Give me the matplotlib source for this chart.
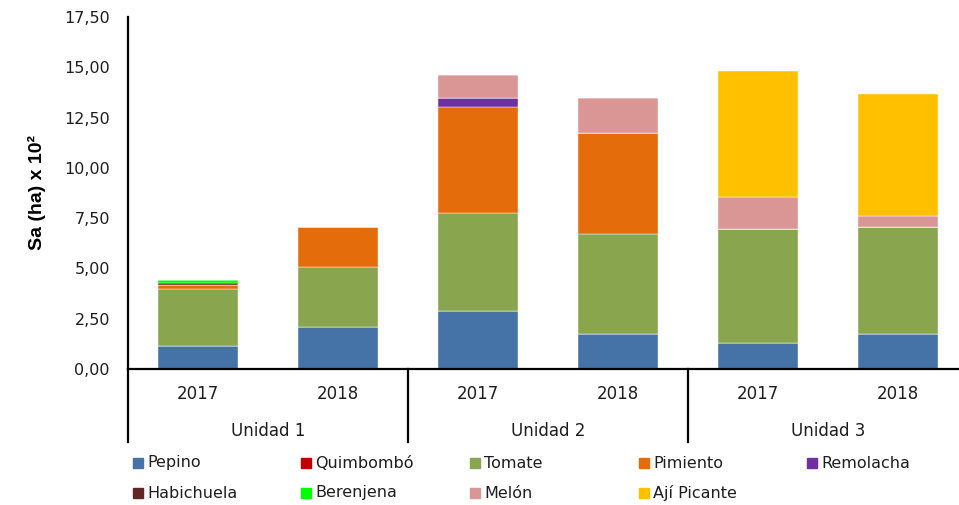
import numpy as np
import matplotlib
matplotlib.use("Agg")
import matplotlib.pyplot as plt
from matplotlib.patches import Rectangle

YEARS = ["2017", "2018", "2017", "2018", "2017", "2018"]
UNITS = ["Unidad 1", "Unidad 2", "Unidad 3"]

CROPS = ["Pepino", "Quimbombó", "Tomate", "Pimiento", "Remolacha",
         "Habichuela", "Berenjena", "Melón", "Ají Picante"]

pepino     = [1.15, 2.07, 2.89, 1.74, 1.29, 1.74]
quimbombo  = [0.00, 0.00, 0.00, 0.00, 0.00, 0.00]
tomate     = [2.83, 2.99, 4.87, 4.98, 5.68, 5.31]
pimiento   = [0.22, 1.99, 5.29, 5.02, 0.00, 0.00]
remolacha  = [0.00, 0.00, 0.42, 0.00, 0.00, 0.00]
habichuela = [0.10, 0.00, 0.00, 0.00, 0.00, 0.00]
berenjena  = [0.12, 0.00, 0.00, 0.00, 0.00, 0.00]
melon      = [0.00, 0.00, 1.16, 1.74, 1.59, 0.58]
aji        = [0.00, 0.00, 0.00, 0.00, 6.27, 6.05]

SERIES = [pepino, quimbombo, tomate, pimiento, remolacha,
          habichuela, berenjena, melon, aji]

COLORS = ["#4572A7", "#C00000", "#89A54E", "#E46C0A", "#7030A0",
          "#632523", "#00FF00", "#D99694", "#FFC000"]

TEXT = "#1e1e1e"

W, H = 959, 505
fig = plt.figure(figsize=(W / 100, H / 100), dpi=100)
ax = fig.add_axes([128 / W, (H - 369) / H, 840 / W, 352 / H])

x = np.arange(len(YEARS))
bottom = np.zeros(len(YEARS))
for vals, color, name in zip(SERIES, COLORS, CROPS):
    vals = np.array(vals)
    ax.bar(x, vals, 0.575, bottom=bottom, color=color, label=name,
           edgecolor="white", linewidth=0.3)
    bottom += vals

ax.set_xlim(-0.5, len(YEARS) - 0.5)
ax.set_ylim(0, 17.5)
ticks = np.arange(0, 17.51, 2.5)
ax.set_yticks(ticks)
ax.set_yticklabels([f"{v:.2f}".replace(".", ",") for v in ticks],
                   fontsize=11.5, color=TEXT)
ax.tick_params(axis="y", length=0, pad=13)
ax.set_xticks([])
for s in ("top", "right"):
    ax.spines[s].set_visible(False)
for s in ("left", "bottom"):
    ax.spines[s].set_linewidth(1.6)
    ax.spines[s].set_color("black")

# year labels and group labels below the axis
trans = ax.get_xaxis_transform()
for xi, yr in zip(x, YEARS):
    ax.text(xi, -0.07, yr, transform=trans, ha="center", va="center",
            fontsize=12, color=TEXT)
for i, u in enumerate(UNITS):
    ax.text(2 * i + 0.5, -0.177, u, transform=trans, ha="center",
            va="center", fontsize=12, color=TEXT)
for b in (-0.5, 1.5, 3.5, 5.5):
    ax.plot([b, b], [0, -0.207], transform=trans, color="black",
            lw=1.6, clip_on=False)

ax.set_ylabel("Sa (ha) x 10²", fontsize=14, fontweight="bold",
              family="Liberation Sans")
ax.yaxis.set_label_coords(-0.098, 0.5)

# legend, row-major in two rows
col_x = [133, 301, 470, 639, 807]
row_y = [463, 493]
for i, (name, color) in enumerate(zip(CROPS, COLORS)):
    r, c = divmod(i, 5)
    px, py = col_x[c], row_y[r]
    fig.patches.append(Rectangle((px / W, (H - py - 5) / H), 10 / W, 10 / H,
                                 transform=fig.transFigure, color=color))
    fig.text((px + 14) / W, (H - py) / H, name, ha="left", va="center",
             fontsize=11.5, color=TEXT)

fig.savefig("out.png", dpi=100)
